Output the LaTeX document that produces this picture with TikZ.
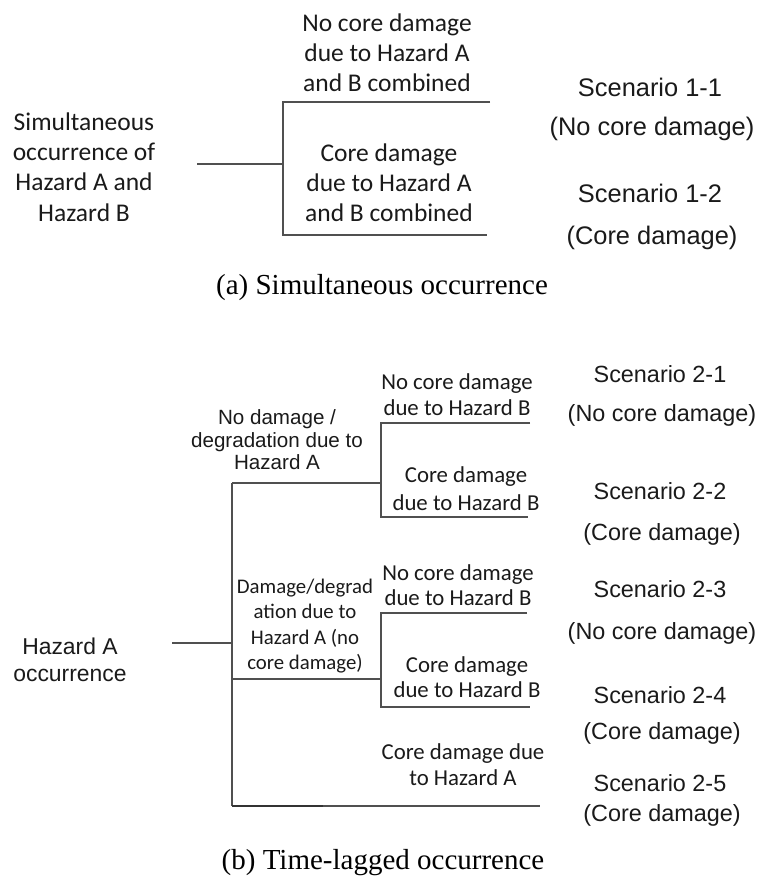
\documentclass[tikz,border=0pt]{standalone}
\usepackage{fontspec}
\setmainfont{Liberation Serif}
\newfontfamily\calfont{Carlito}
\newfontfamily\arifont{Liberation Sans}
\definecolor{linegray}{HTML}{505050}
\definecolor{txt}{HTML}{1A1A1A}
\tikzset{
  br/.style={draw=linegray, line width=1.3pt},
  brthick/.style={draw=black!80, line width=2pt},
  ctxt/.style 2 args={font=\calfont\fontsize{#1}{#2}\selectfont, align=center, inner sep=0pt, text=txt},
  atxt/.style 2 args={font=\arifont\fontsize{#1}{#2}\selectfont, align=center, inner sep=0pt, text=txt},
  captiontxt/.style={font=\fontsize{29}{33}\selectfont, inner sep=0pt, text=black}
}
\begin{document}
\begin{tikzpicture}[x=1pt,y=-1pt]
\useasboundingbox (0,0) rectangle (759,876);
% ---------- (a) ----------
\coordinate (a0) at (197,164);
\coordinate (aj) at (283,164);
\coordinate (at) at (283,102);
\coordinate (ab) at (283,235);
\coordinate (ate) at (490,102);
\coordinate (abe) at (487,235);
\draw[br] (a0) -- (aj);
\draw[br] (ate) -- (at) -- (ab) -- (abe);

\node[ctxt={25.5}{30.2}] (aleft) at (84,167) {Simultaneous\\occurrence of\\Hazard A and\\Hazard B};
\node[ctxt={25.5}{30}] (atop) at (387,53) {No core damage\\due to Hazard A\\and B combined};
\node[ctxt={25.5}{30}] (abot) at (389,183) {Core damage\\due to Hazard A\\and B combined};

\node[atxt={25.4}{30}] (s11) at (650,87) {Scenario 1-1};
\node[atxt={25.4}{30}] (s11b) at (652,129) {(No core damage)};
\node[atxt={25.4}{30}] (s12) at (650,193) {Scenario 1-2};
\node[atxt={25.4}{30}] (s12b) at (652,238) {(Core damage)};

\node[captiontxt] (capa) at (382,288) {(a) Simultaneous occurrence};

% ---------- (b) ----------
\coordinate (b0) at (172,643);
\coordinate (bj) at (232,643);
\coordinate (bt) at (232,483);
\coordinate (bm) at (232,679);
\coordinate (bb) at (232,806);
\coordinate (bbk) at (323,806);
\coordinate (bbe) at (540,806);
\coordinate (u0) at (381,483);
\coordinate (ut) at (381,423);
\coordinate (ub) at (381,517);
\coordinate (ute) at (530,423);
\coordinate (ube) at (528,517);
\coordinate (l0) at (381,679);
\coordinate (lt) at (381,613);
\coordinate (lb) at (381,707);
\coordinate (lte) at (527,613);
\coordinate (lbe) at (530,707);

\draw[br] (b0) -- (bj);
\draw[br] (bt) -- (bb);
\draw[br] (bt) -- (u0);
\draw[br] (bm) -- (l0);
\draw[br] (bb) -- (bbe);
\draw[brthick] (bb) -- (bbk);
\draw[br] (ute) -- (ut) -- (ub) -- (ube);
\draw[br] (lte) -- (lt) -- (lb) -- (lbe);

\node[atxt={22.9}{27}] (hz) at (70,660) {Hazard A\\occurrence};
\node[atxt={20.6}{22.5}] (nd) at (277,440) {No damage /\\degradation due to\\Hazard A};
\node[ctxt={22.8}{26}] (n1) at (457,395) {No core damage\\due to Hazard B};
\node[ctxt={22.8}{28}] (c1) at (466,489) {Core damage\\due to Hazard B};
\node[ctxt={20.8}{25.3}] (dd) at (305,626) {Damage/degrad\\ation due to\\Hazard A (no\\core damage)};
\node[ctxt={22.8}{25}] (n2) at (458,585) {No core damage\\due to Hazard B};
\node[ctxt={22.8}{25}] (c2) at (467,677) {Core damage\\due to Hazard B};
\node[ctxt={22.8}{26}] (c3) at (463,765) {Core damage due\\to Hazard A};

\node[atxt={23.4}{28}] (s21) at (660,374) {Scenario 2-1};
\node[atxt={23.4}{28}] (s21b) at (662,415) {(No core damage)};
\node[atxt={23.4}{28}] (s22) at (660,491) {Scenario 2-2};
\node[atxt={23.4}{28}] (s22b) at (662,534) {(Core damage)};
\node[atxt={23.4}{28}] (s23) at (660,589) {Scenario 2-3};
\node[atxt={23.4}{28}] (s23b) at (662,633) {(No core damage)};
\node[atxt={23.4}{28}] (s24) at (660,695) {Scenario 2-4};
\node[atxt={23.4}{28}] (s24b) at (662,733) {(Core damage)};
\node[atxt={23.4}{28}] (s25) at (660,783) {Scenario 2-5};
\node[atxt={23.4}{28}] (s25b) at (662,815) {(Core damage)};

\node[captiontxt] (capb) at (383,863) {(b) Time-lagged occurrence};
\end{tikzpicture}
\end{document}
